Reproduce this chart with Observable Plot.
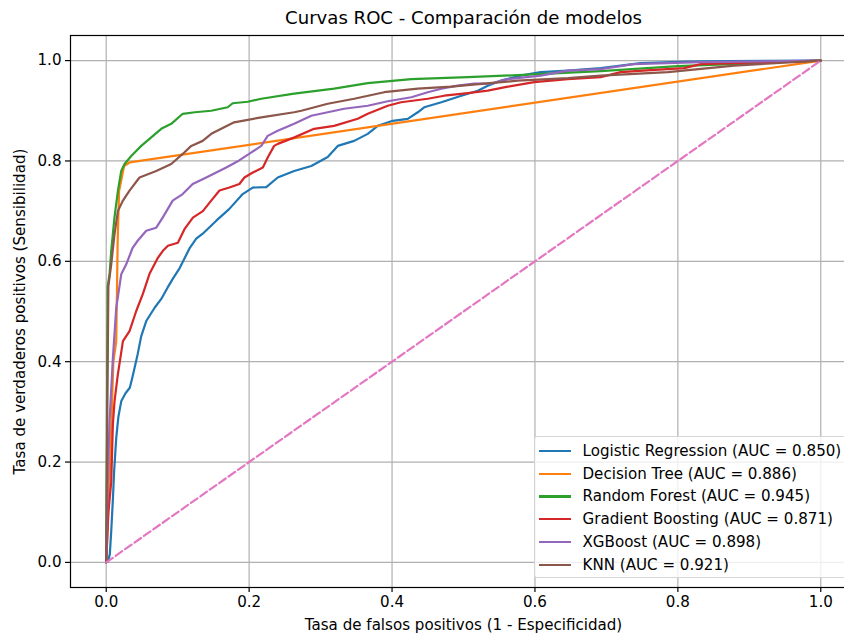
<!DOCTYPE html>
<html>
<head>
<meta charset="utf-8">
<script src="https://cdn.jsdelivr.net/npm/d3@7"></script>
<script src="https://cdn.jsdelivr.net/npm/@observablehq/plot@0.6"></script>
<style>
  html, body { margin: 0; padding: 0; background: #fff; overflow: hidden; }
  #wrap { position: relative; width: 844px; height: 635px; overflow: hidden; font-family: "DejaVu Sans", sans-serif; }
  #wrap svg { overflow: hidden; }
  #legend { position: absolute; left: 534px; top: 436px; width: 330px; height: 142px;
    background: rgba(255,255,255,0.8); border: 1px solid rgba(204,204,204,0.8); border-radius: 3px; box-sizing: border-box; }
  .row { position: absolute; left: 0; height: 22px; width: 320px; }
  .handle { position: absolute; left: 4px; top: 10px; width: 32.4px; height: 2.2px; }
  .lab { position: absolute; left: 47.5px; top: 0; line-height: 22px; font-size: 15.1px; color: #000; white-space: nowrap; }
</style>
</head>
<body>
<div id="wrap"></div>
<script>
// ---- data ----
const models = ["Logistic Regression", "Decision Tree", "Random Forest", "Gradient Boosting", "XGBoost", "KNN"];
const aucs = [0.850, 0.886, 0.945, 0.871, 0.898, 0.921];
const colors = ["#1f77b4", "#ff7f0e", "#2ca02c", "#d62728", "#9467bd", "#8c564b"];
const xTicks = [0, 0.2, 0.4, 0.6, 0.8, 1.0];
const yTicks = [0, 0.2, 0.4, 0.6, 0.8, 1.0];
const titleText = "Curvas ROC - Comparación de modelos";
const xLabel = "Tasa de falsos positivos (1 - Especificidad)";
const yLabel = "Tasa de verdaderos positivos (Sensibilidad)";

const rocLR = [[0,0],[0.0024,0.002],[0.005,0.016],[0.007,0.062],[0.0094,0.128],[0.011,0.18],[0.014,0.248],[0.017,0.29],[0.021,0.321],[0.027,0.337],[0.033,0.348],[0.037,0.371],[0.044,0.415],[0.049,0.451],[0.056,0.481],[0.068,0.508],[0.077,0.525],[0.086,0.548],[0.094,0.567],[0.103,0.587],[0.117,0.627],[0.126,0.645],[0.135,0.655],[0.154,0.681],[0.172,0.704],[0.191,0.734],[0.205,0.747],[0.224,0.748],[0.240,0.767],[0.263,0.780],[0.287,0.790],[0.310,0.808],[0.324,0.830],[0.347,0.840],[0.366,0.854],[0.380,0.870],[0.401,0.880],[0.422,0.884],[0.436,0.897],[0.445,0.907],[0.469,0.917],[0.497,0.930],[0.520,0.940],[0.534,0.950],[0.552,0.960],[0.580,0.970],[0.608,0.977],[0.646,0.980],[0.692,0.985],[0.748,0.995],[0.814,0.998],[0.87,0.999],[1,1]];
const rocDT = [[0,0],[0.0046,0.162],[0.010,0.40],[0.014,0.44],[0.016,0.64],[0.018,0.74],[0.025,0.79],[0.0326,0.797],[1,1]];
const rocRF = [[0,0],[0.001,0.30],[0.002,0.55],[0.0047,0.575],[0.007,0.621],[0.0116,0.688],[0.0163,0.74],[0.021,0.780],[0.0256,0.794],[0.035,0.810],[0.049,0.830],[0.063,0.847],[0.077,0.864],[0.091,0.874],[0.107,0.894],[0.124,0.897],[0.147,0.900],[0.170,0.907],[0.177,0.915],[0.198,0.918],[0.217,0.924],[0.263,0.934],[0.319,0.944],[0.366,0.955],[0.427,0.963],[0.506,0.967],[0.576,0.971],[0.692,0.979],[0.80,0.989],[1,1]];
const rocGB = [[0,0],[0.003,0.10],[0.007,0.16],[0.0093,0.275],[0.0116,0.321],[0.0163,0.375],[0.0234,0.441],[0.0326,0.461],[0.042,0.501],[0.0513,0.535],[0.0606,0.575],[0.0723,0.607],[0.0793,0.621],[0.0863,0.631],[0.1003,0.637],[0.1095,0.664],[0.1213,0.687],[0.1352,0.700],[0.1469,0.721],[0.1585,0.741],[0.1724,0.747],[0.1864,0.754],[0.1934,0.767],[0.2052,0.777],[0.2192,0.787],[0.226,0.807],[0.235,0.830],[0.2401,0.834],[0.2634,0.847],[0.2909,0.864],[0.3189,0.870],[0.352,0.884],[0.366,0.894],[0.394,0.910],[0.4126,0.917],[0.450,0.924],[0.473,0.930],[0.506,0.935],[0.534,0.940],[0.562,0.948],[0.599,0.957],[0.646,0.963],[0.692,0.967],[0.720,0.977],[0.762,0.981],[0.809,0.985],[0.832,0.993],[1,1]];
const rocXGB = [[0,0],[0.002,0.15],[0.0046,0.28],[0.0093,0.407],[0.014,0.507],[0.021,0.574],[0.028,0.594],[0.037,0.627],[0.044,0.641],[0.056,0.661],[0.070,0.667],[0.079,0.687],[0.093,0.721],[0.107,0.734],[0.121,0.754],[0.140,0.767],[0.154,0.777],[0.168,0.787],[0.186,0.801],[0.200,0.814],[0.217,0.830],[0.226,0.850],[0.240,0.860],[0.263,0.874],[0.287,0.890],[0.310,0.897],[0.333,0.904],[0.366,0.910],[0.394,0.919],[0.427,0.927],[0.450,0.937],[0.469,0.944],[0.492,0.950],[0.515,0.954],[0.538,0.954],[0.562,0.963],[0.608,0.970],[0.646,0.980],[0.692,0.983],[0.738,0.993],[0.832,0.997],[1,1]];
const rocKNN = [[0,0],[0.0015,0.30],[0.003,0.55],[0.007,0.594],[0.0116,0.654],[0.0163,0.70],[0.0234,0.721],[0.0326,0.741],[0.0466,0.767],[0.070,0.780],[0.091,0.794],[0.107,0.814],[0.119,0.830],[0.135,0.840],[0.147,0.854],[0.179,0.877],[0.217,0.887],[0.263,0.897],[0.273,0.900],[0.310,0.914],[0.347,0.924],[0.389,0.937],[0.436,0.944],[0.483,0.948],[0.529,0.954],[0.576,0.960],[0.646,0.965],[0.692,0.970],[0.786,0.977],[0.879,0.990],[1,1]];
const chance = [[0,0],[1,1]];

const curves = [rocLR, rocDT, rocRF, rocGB, rocXGB, rocKNN];
const rows = curves.flatMap((c, i) => c.map(([fpr, tpr]) => ({model: models[i], fpr, tpr})));

const fmt = d3.format(".1f");
const chart = Plot.plot({
  width: 844,
  height: 635,
  marginLeft: 70,
  marginRight: -12,
  marginTop: 35,
  marginBottom: 48,
  style: {fontFamily: "DejaVu Sans, sans-serif", background: "#fff", color: "#000"},
  x: {domain: [-0.05, 1.05]},
  y: {domain: [-0.05, 1.05]},
  color: {domain: models, range: colors},
  marks: [
    Plot.gridX(xTicks, {stroke: "#b0b0b0", strokeOpacity: 1, strokeWidth: 1.2}),
    Plot.gridY(yTicks, {stroke: "#b0b0b0", strokeOpacity: 1, strokeWidth: 1.2}),
    Plot.line(rows, {x: "fpr", y: "tpr", z: "model", stroke: "model", strokeWidth: 2.2, strokeLinejoin: "round"}),
    Plot.line(chance, {x: d => d[0], y: d => d[1], stroke: "#e377c2", strokeWidth: 2.2, strokeDasharray: "8,3.5"}),
    Plot.frame({stroke: "#000", strokeWidth: 1.2}),
    Plot.axisX(xTicks, {tickFormat: fmt, tickSize: 5, tickPadding: 4, fontSize: 15.1, label: null, stroke: "#000", strokeWidth: 1.2, fill: "#000"}),
    Plot.axisY(yTicks, {tickFormat: fmt, tickSize: 5, tickPadding: 4, fontSize: 15.1, label: null, stroke: "#000", strokeWidth: 1.2, fill: "#000"}),
    Plot.text([titleText], {frameAnchor: "top", dy: -17, fontSize: 18.1, lineAnchor: "middle", textAnchor: "middle", fill: "#000"}),
    Plot.text([xLabel], {frameAnchor: "bottom", dy: 38, fontSize: 15.1, lineAnchor: "middle", textAnchor: "middle", fill: "#000"}),
    Plot.text([yLabel], {frameAnchor: "left", dx: -50, rotate: -90, fontSize: 15.1, lineAnchor: "middle", textAnchor: "middle", fill: "#000"})
  ]
});

const wrap = document.getElementById("wrap");
wrap.appendChild(chart);

// legend (matplotlib-style, lower right)
const legend = document.createElement("div");
legend.id = "legend";
models.forEach((m, i) => {
  const row = document.createElement("div");
  row.className = "row";
  row.style.top = (3 + i * 22.7) + "px";
  const h = document.createElement("span");
  h.className = "handle";
  h.style.background = colors[i];
  const t = document.createElement("span");
  t.className = "lab";
  t.textContent = `${m} (AUC = ${aucs[i].toFixed(3)})`;
  row.appendChild(h);
  row.appendChild(t);
  legend.appendChild(row);
});
wrap.appendChild(legend);
</script>
</body>
</html>
